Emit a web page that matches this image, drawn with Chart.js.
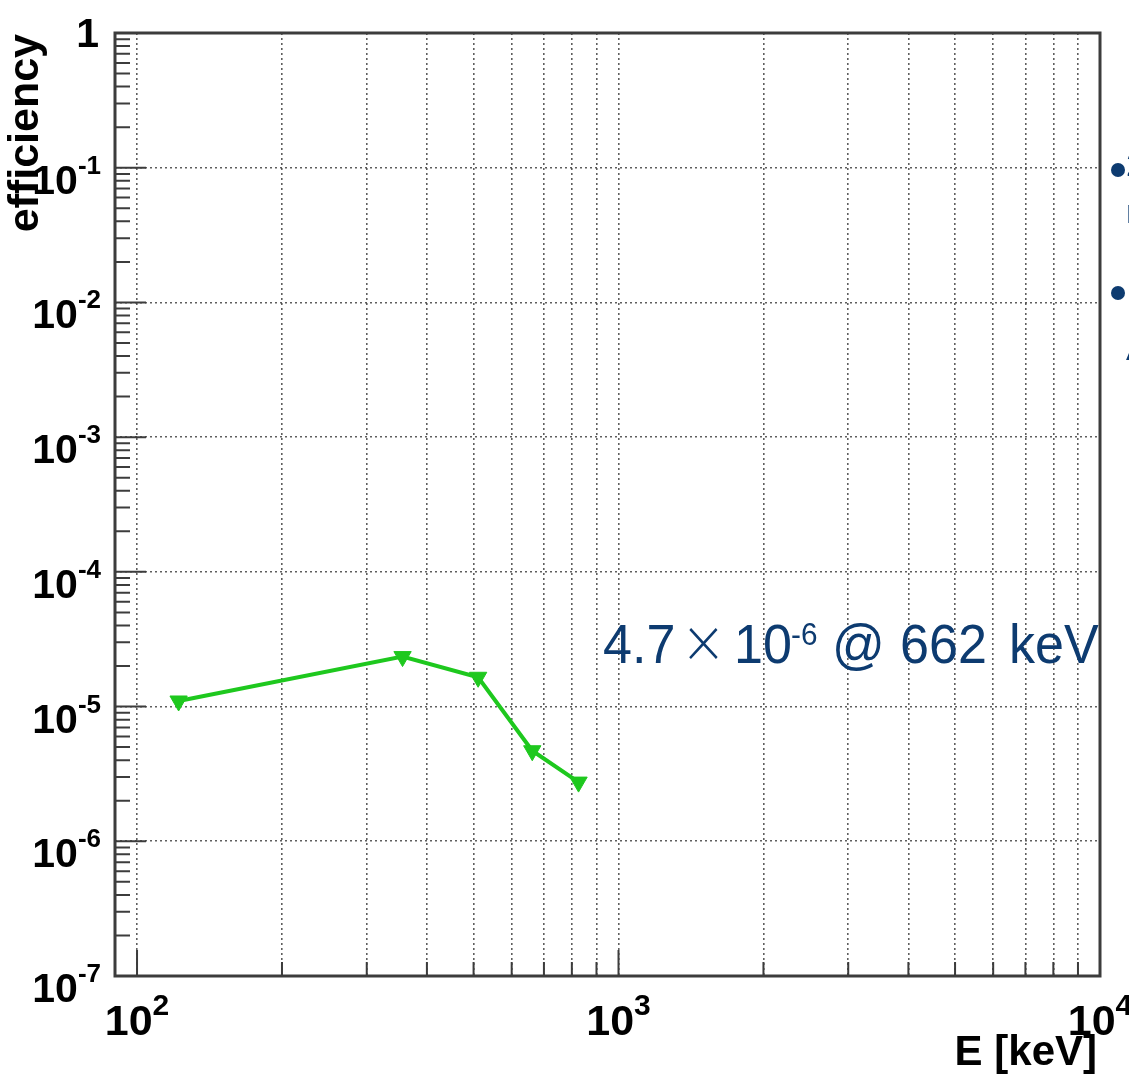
<!DOCTYPE html>
<html>
<head>
<meta charset="utf-8">
<script src="https://cdn.jsdelivr.net/npm/chart.js@4.4.1/dist/chart.umd.min.js"></script>
<style>
  html, body { margin: 0; padding: 0; background: #fff; }
  #wrap { width: 1129px; height: 1074px; position: relative; }
</style>
</head>
<body>
<div id="wrap"><canvas id="eff"></canvas></div>
<script>
// photopeak efficiency vs gamma energy
const energies = [122, 356, 511, 662, 826];
const efficiency = [1.1e-5, 2.35e-5, 1.65e-5, 4.7e-6, 2.75e-6];

// axis ranges, grid and tick labels
const xMin = 90, xMax = 1e4;
const yMin = 1e-7, yMax = 1;
const xGrid = [100, 200, 300, 400, 500, 600, 700, 800, 900,
               1000, 2000, 3000, 4000, 5000, 6000, 7000, 8000, 9000];
const xMajor = [100, 1000, 10000];
const xTickLabels = ['10^2', '10^3', '10^4'];
const yMajor = [1, 1e-1, 1e-2, 1e-3, 1e-4, 1e-5, 1e-6, 1e-7];
const yTickLabels = ['1', '10^-1', '10^-2', '10^-3', '10^-4', '10^-5', '10^-6', '10^-7'];

const FONT = '"Liberation Sans", Arial, Helvetica, sans-serif';
const frameColor = '#3c3c3c';
const noteColor = '#0d3b70';
const green = '#1ec81e';

function drawPower(ctx, text, x, baseY, expY, baseSize, expSize, align) {
    const parts = text.split('^');
    ctx.font = 'bold ' + baseSize + 'px ' + FONT;
    const wb = ctx.measureText(parts[0]).width;
    let we = 0;
    if (parts[1]) {
        ctx.font = 'bold ' + expSize + 'px ' + FONT;
        we = ctx.measureText(parts[1]).width;
    }
    let x0 = x - wb - we;
    if (align === 'center') x0 = x - (wb + we) / 2;
    ctx.textAlign = 'left';
    ctx.font = 'bold ' + baseSize + 'px ' + FONT;
    ctx.fillText(parts[0], x0, baseY);
    if (parts[1]) {
        ctx.font = 'bold ' + expSize + 'px ' + FONT;
        ctx.fillText(parts[1], x0 + wb, expY);
    }
}

// slightly narrow text piece
function note(ctx, str, x, y, font) {
    ctx.save();
    ctx.translate(x, y);
    ctx.scale(0.93, 1);
    ctx.font = font;
    ctx.fillText(str, 0, 0);
    ctx.restore();
}

const rootFrame = {
    id: 'rootFrame',
    afterDatasetsDraw(chart) {
        const {ctx, chartArea: a, scales: {x, y}} = chart;
        ctx.save();

        // value note, clipped by the frame
        ctx.save();
        ctx.beginPath();
        ctx.rect(a.left, a.top, a.right - a.left, a.bottom - a.top);
        ctx.clip();
        ctx.fillStyle = noteColor;
        ctx.textBaseline = 'alphabetic';
        ctx.textAlign = 'left';
        const ny = 663;
        note(ctx, '4.7', 603, ny, '56px ' + FONT);
        note(ctx, '\u00d7', 684, ny + 5, '300 72px Lato, ' + FONT);
        note(ctx, '10', 734, ny, '56px ' + FONT);
        note(ctx, '-6', 791, ny - 18, '32px ' + FONT);
        note(ctx, '@', 832, ny, '56px ' + FONT);
        note(ctx, '662', 900, ny, '56px ' + FONT);
        note(ctx, 'keV', 1009, ny, '56px ' + FONT);
        ctx.restore();

        // frame
        ctx.strokeStyle = frameColor;
        ctx.lineWidth = 3;
        ctx.strokeRect(a.left, a.top, a.right - a.left, a.bottom - a.top);

        // ticks, pointing into the frame
        ctx.lineWidth = 2;
        ctx.beginPath();
        yMajor.forEach(v => {
            const py = y.getPixelForValue(v);
            ctx.moveTo(a.left, py);
            ctx.lineTo(a.left + 31, py);
            if (v < 1) {
                for (let k = 2; k <= 9; k++) {
                    const my = y.getPixelForValue(v * k);
                    ctx.moveTo(a.left, my);
                    ctx.lineTo(a.left + 15, my);
                }
            }
        });
        xGrid.forEach(v => {
            const px = x.getPixelForValue(v);
            const len = xMajor.includes(v) ? 26 : 14;
            ctx.moveTo(px, a.bottom);
            ctx.lineTo(px, a.bottom - len);
        });
        ctx.stroke();

        // tick labels
        ctx.fillStyle = '#000';
        ctx.textBaseline = 'alphabetic';
        yMajor.forEach((v, i) => {
            const py = y.getPixelForValue(v);
            if (yTickLabels[i].includes('^')) {
                drawPower(ctx, yTickLabels[i], 101, py + 26, py + 6, 41, 26, 'right');
            } else {
                drawPower(ctx, yTickLabels[i], 99, py + 14, py, 41, 26, 'right');
            }
        });
        xMajor.forEach((v, i) => {
            const px = x.getPixelForValue(v);
            drawPower(ctx, xTickLabels[i], px, a.bottom + 59, a.bottom + 39, 43, 30, 'center');
        });

        // axis titles
        ctx.font = 'bold 42px ' + FONT;
        ctx.textAlign = 'right';
        ctx.fillText('E [keV]', a.right - 3, a.bottom + 89);
        ctx.save();
        ctx.translate(38, a.top + 1);
        ctx.rotate(-Math.PI / 2);
        ctx.font = 'bold 43px ' + FONT;
        ctx.fillText('efficiency', 0, 0);
        ctx.restore();

        // bullets of the neighbouring text column
        ctx.fillStyle = noteColor;
        [170, 293].forEach(by => {
            ctx.beginPath();
            ctx.arc(1118, by, 7, 0, Math.PI * 2);
            ctx.fill();
        });
        ctx.font = '34px ' + FONT;
        ctx.textAlign = 'left';
        ctx.fillText('2', 1126, 176);
        ctx.fillText('m', 1126, 223);
        ctx.fillText('A', 1126, 360);

        ctx.restore();
    }
};

new Chart(document.getElementById('eff').getContext('2d'), {
    type: 'line',
    data: {
        datasets: [{
            data: energies.map((e, i) => ({x: e, y: efficiency[i]})),
            borderColor: green,
            backgroundColor: green,
            borderWidth: 4,
            pointStyle: 'triangle',
            pointRotation: 180,
            pointRadius: 10,
            pointBorderWidth: 1,
            tension: 0
        }]
    },
    options: {
        responsive: true,
        maintainAspectRatio: false,
        animation: false,
        layout: {padding: {left: 115, top: 33, right: 29, bottom: 98}},
        plugins: {legend: {display: false}, tooltip: {enabled: false}},
        scales: {
            x: {
                type: 'logarithmic',
                min: xMin,
                max: xMax,
                afterBuildTicks: s => { s.ticks = xGrid.map(v => ({value: v})); },
                ticks: {display: false},
                grid: {color: 'rgba(55,55,55,0.8)', lineWidth: 1.6, drawTicks: false},
                border: {display: false, dash: [2, 3]}
            },
            y: {
                type: 'logarithmic',
                min: yMin,
                max: yMax,
                afterBuildTicks: s => { s.ticks = yMajor.map(v => ({value: v})); },
                ticks: {display: false},
                grid: {color: 'rgba(55,55,55,0.8)', lineWidth: 1.6, drawTicks: false},
                border: {display: false, dash: [2, 3]}
            }
        }
    },
    plugins: [rootFrame]
});
</script>
</body>
</html>
